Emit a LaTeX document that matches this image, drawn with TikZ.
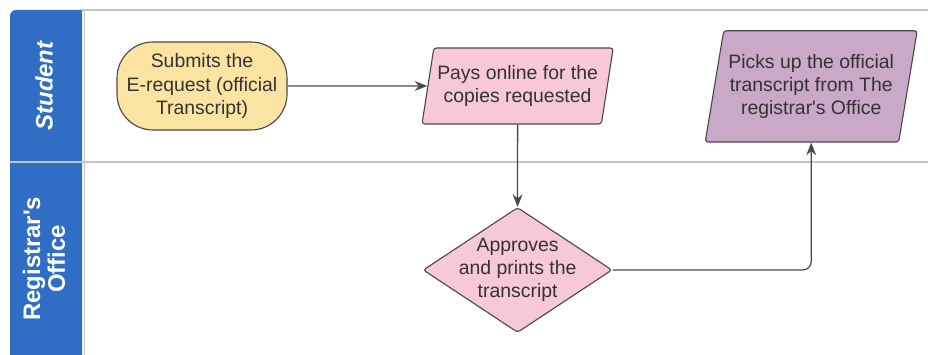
\documentclass[tikz,border=0pt]{standalone}
\usepackage{fontspec}
\setmainfont{Liberation Sans}
\usetikzlibrary{shapes.geometric,arrows.meta}
\definecolor{lane}{HTML}{2F6EC4}
\definecolor{startcol}{HTML}{FBE3A1}
\definecolor{paycol}{HTML}{F7C8D6}
\definecolor{pickcol}{HTML}{C9A8C8}
\definecolor{edge}{HTML}{4A4A4A}
\definecolor{txt}{HTML}{333333}
\definecolor{rule}{HTML}{C4C4C4}

\begin{document}
\begin{tikzpicture}[
  box/.style={draw=edge, line width=0.8pt, text=txt, align=center, inner sep=0pt,
    font=\fontsize{13.8}{16.5}\selectfont},
  pill/.style={box, rectangle, rounded corners=0.9cm, fill=startcol,
    minimum width=4.25cm, minimum height=2.2cm},
  slanted/.style={box, trapezium, trapezium left angle=74, trapezium right angle=106,
    trapezium stretches body, rounded corners=2pt},
  decision/.style={box, diamond, fill=paycol, rounded corners=2pt,
    minimum width=4.725cm, minimum height=3.125cm},
  lanelabel/.style={text=white, rotate=90, align=center,
    font=\bfseries\fontsize{17}{17.5}\selectfont},
  conn/.style={draw=edge, line width=0.9pt, -{Stealth[length=9pt,width=7pt]}}
]
  \useasboundingbox (0,0) rectangle (23.2,-8.875);
  % swimlane frame
  \begin{scope}
    \clip (0,0) rectangle (23.2,-8.875);
    \fill[lane] (2.05,-9.2) -- (2.05,-0.25) -- (0.4,-0.25)
      arc[start angle=90, end angle=180, radius=0.15] -- (0.25,-9.2) -- cycle;
    \draw[rule, line width=0.8pt] (2.05,-0.25) -- (23.2,-0.25);
    \draw[rule, line width=0.8pt] (0.25,-4.05) -- (23.2,-4.05);
    \draw[rule, line width=0.6pt] (2.1,-0.25) -- (2.1,-9.2);
  \end{scope}
  \node[lanelabel] (student) at (1.1,-2.14) {\textit{Student}};
  \node[lanelabel] (office) at (1.1,-6.47) {Registrar\textquotesingle s\\Office};

  % steps
  \node[pill] (submit) at (5.05,-2.15) {Submits the\\E-request (official\\Transcript)};
  \node[slanted, fill=paycol, minimum width=4.78cm, minimum height=1.9cm]
    (pay) at (12.94,-2.15) {Pays online for the\\copies requested};
  \node[decision] (approve) at (12.94,-6.75) {};
  \node[box, draw=none] (approvetext) at (approve) {Approves\\and prints the\\transcript};
  \node[slanted, fill=pickcol, minimum width=5.3cm, minimum height=2.78cm]
    (pickup) at (20.28,-2.16) {Picks up the official\\transcript from The\\registrar\textquotesingle s Office};

  \draw[conn] (submit) -- (pay);
  \draw[conn] (pay) -- (approve);
  \draw[conn, rounded corners=6pt] (approve.east) -| (pickup.south);
\end{tikzpicture}
\end{document}
